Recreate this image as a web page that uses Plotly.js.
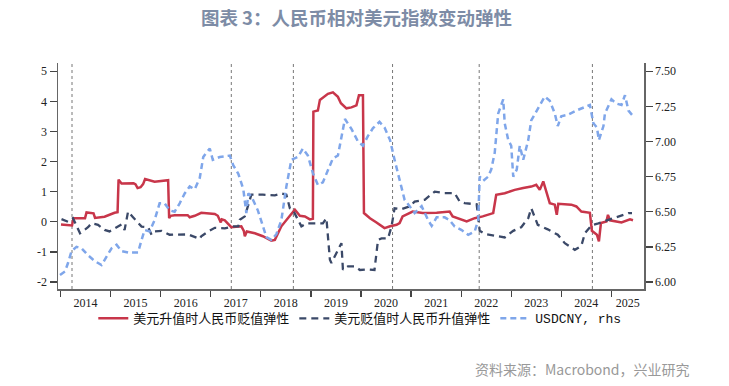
<!DOCTYPE html>
<html>
<head>
<meta charset="utf-8">
<script src="https://cdn.plot.ly/plotly-3.0.1.min.js"></script>
<style>html,body{margin:0;padding:0;background:#fff;}#chart{width:729px;height:386px;}</style>
</head>
<body>
<div id="chart"></div>
<script>
// ---- data (dates as decimal years) ----
const redT = [2014.01,2014.19,2014.23,2014.26,2014.49,2014.52,2014.66,2014.69,2014.88,2015.08,2015.14,2015.16,2015.22,2015.46,2015.50,2015.54,2015.60,2015.65,2015.69,2015.88,2016.08,2016.15,2016.17,2016.20,2016.28,2016.54,2016.58,2016.68,2016.81,2016.94,2017.08,2017.14,2017.20,2017.22,2017.28,2017.41,2017.61,2017.66,2017.68,2017.72,2017.88,2018.04,2018.21,2018.28,2018.41,2018.58,2018.68,2018.78,2018.88,2018.98,2019.04,2019.05,2019.14,2019.18,2019.34,2019.44,2019.54,2019.60,2019.71,2019.81,2019.91,2019.96,2020.04,2020.06,2020.18,2020.31,2020.47,2020.58,2020.71,2020.77,2020.83,2021.03,2021.23,2021.51,2021.77,2021.83,2022.01,2022.11,2022.27,2022.43,2022.64,2022.70,2022.87,2023.07,2023.24,2023.40,2023.50,2023.57,2023.64,2023.70,2023.77,2023.87,2023.91,2023.94,2024.20,2024.30,2024.40,2024.57,2024.61,2024.71,2024.75,2024.79,2024.90,2024.93,2024.97,2025.20,2025.33,2025.37,2025.43];
const redV = [-0.09,-0.13,-0.12,0.12,0.12,0.31,0.28,0.13,0.17,0.30,0.32,1.40,1.27,1.28,1.24,1.12,1.15,1.25,1.42,1.33,1.37,1.38,0.12,0.20,0.22,0.22,0.15,0.20,0.30,0.28,0.26,0.20,-0.02,0.08,0.05,-0.18,-0.15,-0.30,-0.48,-0.32,-0.38,-0.48,-0.63,-0.60,-0.15,0.20,0.40,0.20,0.18,0.08,0.10,3.66,3.70,4.05,4.25,4.30,4.15,3.94,3.77,3.80,3.87,4.20,4.20,0.29,0.12,-0.02,-0.21,-0.15,-0.10,-0.04,0.18,0.34,0.29,0.30,0.34,0.18,0.07,0.01,0.12,0.18,0.29,0.90,0.95,1.06,1.12,1.17,1.23,1.06,1.34,1.00,0.62,0.57,0.23,0.60,0.57,0.51,0.34,0.30,-0.30,-0.43,-0.65,-0.04,0.01,0.23,0.05,-0.02,0.04,0.08,0.05];

const navyT = [2014.02,2014.15,2014.25,2014.39,2014.55,2014.62,2014.75,2014.88,2014.98,2015.12,2015.22,2015.28,2015.35,2015.44,2015.62,2015.75,2015.82,2015.88,2016.02,2016.18,2016.35,2016.55,2016.78,2016.81,2016.95,2017.08,2017.28,2017.44,2017.55,2017.58,2017.68,2017.75,2017.81,2018.04,2018.21,2018.28,2018.41,2018.51,2018.58,2018.64,2018.74,2018.81,2018.91,2019.08,2019.24,2019.31,2019.34,2019.38,2019.41,2019.51,2019.61,2019.64,2019.74,2019.88,2019.98,2020.14,2020.27,2020.34,2020.41,2020.54,2020.61,2020.67,2020.81,2020.97,2021.07,2021.27,2021.47,2021.67,2021.87,2021.97,2022.07,2022.31,2022.37,2022.47,2022.67,2022.87,2023.04,2023.20,2023.34,2023.40,2023.53,2023.73,2023.93,2024.07,2024.27,2024.40,2024.47,2024.60,2024.74,2024.94,2025.14,2025.34,2025.41];
const navyV = [0.09,0.00,0.12,-0.38,-0.18,-0.05,-0.10,-0.27,-0.32,-0.20,-0.09,-0.27,0.34,0.17,-0.16,-0.18,-0.43,-0.32,-0.30,-0.43,-0.42,-0.42,-0.57,-0.48,-0.32,-0.20,-0.22,-0.15,-0.15,0.07,0.18,0.62,0.90,0.90,0.90,0.88,0.94,0.90,0.45,0.40,0.07,-0.15,-0.05,-0.05,-0.05,0.12,-0.38,-1.26,-1.37,-1.04,-0.71,-1.59,-1.48,-1.48,-1.60,-1.58,-1.60,-0.60,-0.55,-0.55,-0.15,0.45,0.42,0.51,0.67,0.73,1.00,0.95,0.95,0.67,0.62,0.58,-0.30,-0.40,-0.45,-0.52,-0.30,-0.18,0.12,0.45,-0.10,-0.25,-0.43,-0.71,-0.93,-0.80,-0.38,-0.12,-0.05,0.07,0.18,0.29,0.29];

const cnyT = [2013.99,2014.09,2014.15,2014.22,2014.32,2014.42,2014.55,2014.68,2014.82,2014.92,2015.02,2015.12,2015.22,2015.35,2015.55,2015.62,2015.68,2015.78,2015.88,2015.98,2016.08,2016.18,2016.28,2016.38,2016.48,2016.58,2016.68,2016.78,2016.85,2016.91,2016.98,2017.04,2017.18,2017.38,2017.45,2017.55,2017.65,2017.71,2017.75,2017.81,2017.94,2018.04,2018.11,2018.21,2018.31,2018.41,2018.51,2018.61,2018.74,2018.84,2018.94,2019.04,2019.14,2019.24,2019.34,2019.44,2019.54,2019.61,2019.68,2019.81,2019.94,2020.04,2020.14,2020.24,2020.37,2020.47,2020.58,2020.67,2020.74,2020.81,2020.87,2020.97,2021.07,2021.21,2021.34,2021.41,2021.51,2021.67,2021.77,2021.87,2022.01,2022.14,2022.27,2022.34,2022.37,2022.44,2022.54,2022.60,2022.67,2022.74,2022.80,2022.84,2022.87,2022.94,2023.00,2023.04,2023.11,2023.17,2023.24,2023.34,2023.40,2023.50,2023.57,2023.67,2023.77,2023.87,2023.93,2024.00,2024.13,2024.33,2024.57,2024.64,2024.71,2024.75,2024.84,2024.87,2025.00,2025.10,2025.20,2025.27,2025.34,2025.41];
const cnyV = [6.05,6.075,6.135,6.22,6.25,6.24,6.19,6.15,6.12,6.18,6.24,6.265,6.22,6.21,6.21,6.30,6.37,6.36,6.44,6.56,6.56,6.51,6.50,6.56,6.63,6.68,6.66,6.74,6.89,6.92,6.95,6.87,6.89,6.90,6.83,6.77,6.66,6.49,6.63,6.61,6.51,6.40,6.32,6.30,6.34,6.44,6.68,6.87,6.89,6.95,6.90,6.775,6.69,6.71,6.80,6.88,6.90,7.035,7.16,7.09,7.00,6.97,7.04,7.095,7.14,7.10,7.01,6.87,6.775,6.68,6.585,6.54,6.49,6.54,6.44,6.40,6.46,6.46,6.44,6.395,6.37,6.336,6.36,6.44,6.75,6.72,6.75,6.80,6.92,7.20,7.27,7.30,7.13,7.01,6.97,6.75,6.80,6.97,6.87,7.01,7.15,7.21,7.26,7.32,7.29,7.20,7.11,7.18,7.19,7.225,7.26,7.13,7.10,7.01,7.11,7.20,7.30,7.27,7.26,7.33,7.22,7.19];

const markerT = [2014.23,2017.41,2018.65,2020.63,2022.36,2024.62];
const yearLabels = ['2014','2015','2016','2017','2018','2019','2020','2021','2022','2023','2024','2025'];
const leftTicks = [5,4,3,2,1,0,-1,-2];
const leftTickText = ['5','4','3','2','1','0','-1','-2'];
const rightTicks = [6.00,6.25,6.50,6.75,7.00,7.25,7.50];
const names = ['美元升值时人民币贬值弹性','美元贬值时人民币升值弹性','USDCNY, rhs'];

// ---- helpers ----
function dy(d){
  const y=Math.floor(d);
  const a=Date.UTC(y,0,1), b=Date.UTC(y+1,0,1);
  return new Date(a+(d-y)*(b-a)).toISOString().replace('T',' ').slice(0,19);
}
const xStart=2013.95, xEnd=2025.65;
const labelPos = yearLabels.map(s=>{
  const y=+s; const e=Math.min(y+1,xEnd);
  return dy((y+e)/2);
});
const boundaries = yearLabels.map(s=>dy(+s));

const traces = [
  {x:redT.map(dy), y:redV, name:names[0], type:'scatter', mode:'lines',
   line:{color:'#c8364a', width:2.5}},
  {x:navyT.map(dy), y:navyV, name:names[1], type:'scatter', mode:'lines',
   line:{color:'#3b4968', width:2.3, dash:'7px,5px'}},
  {x:cnyT.map(dy), y:cnyV, name:names[2], type:'scatter', mode:'lines', yaxis:'y2',
   line:{color:'#7fa6ea', width:2.5, dash:'6px,4px'}}
];

const shapes = markerT.map(t=>({type:'line', xref:'x', yref:'paper', x0:dy(t), x1:dy(t), y0:0, y1:1,
  line:{color:'#777', width:1, dash:'3px,3px'}, layer:'below'}));

const tickFont = {family:'Liberation Serif, Times New Roman, serif', size:12, color:'#222'};

const layout = {
  width:729, height:386, autosize:false,
  paper_bgcolor:'#fff', plot_bgcolor:'#fff',
  margin:{l:58, r:85, t:63, b:97, pad:0},
  title:{text:'图表 3：人民币相对美元指数变动弹性', x:0.489, xanchor:'center', xref:'container', y:0.951, yanchor:'middle',
    font:{family:'Noto Sans CJK SC, sans-serif', size:18.5, color:'#7d8ca6', weight:'bold'}},
  xaxis:{type:'date', range:[dy(xStart), dy(xEnd)], tickmode:'array', tickvals:labelPos, ticktext:yearLabels,
    ticks:'outside', ticklen:2, tickcolor:'rgba(0,0,0,0)', showgrid:false, zeroline:false,
    showline:true, linecolor:'#666', linewidth:1.5, tickfont:tickFont,
    minor:{tickmode:'array', tickvals:boundaries, ticks:'outside', ticklen:6, tickcolor:'#444', tickwidth:1.3, showgrid:false}},
  yaxis:{range:[-2.232, 5.275], tickmode:'array', tickvals:leftTicks, ticktext:leftTickText,
    ticks:'outside', ticklen:7, tickcolor:'#444', tickwidth:1.3, showgrid:false, zeroline:false,
    showline:true, linecolor:'#666', linewidth:1.5, tickfont:tickFont},
  yaxis2:{overlaying:'y', side:'right', range:[5.950, 7.559], tickmode:'array', tickvals:rightTicks, tickformat:'.2f',
    ticks:'outside', ticklen:7, tickcolor:'#444', tickwidth:1.3, showgrid:false, zeroline:false,
    showline:true, linecolor:'#666', linewidth:1.5, tickfont:tickFont},
  showlegend:true,
  legend:{orientation:'h', x:0.515, xanchor:'center', y:-0.13, yanchor:'middle',
    font:{family:'Liberation Mono, Noto Sans CJK SC, monospace', size:13, color:'#111'},
    bgcolor:'rgba(0,0,0,0)', itemwidth:30, tracegroupgap:0},
  shapes:shapes,
  annotations:[{text:'资料来源：Macrobond，兴业研究', xref:'paper', yref:'paper', x:1.082, y:-0.354,
    xanchor:'right', yanchor:'middle', showarrow:false,
    font:{family:'Noto Sans CJK SC, sans-serif', size:14, color:'#999'}}]
};

Plotly.newPlot('chart', traces, layout, {staticPlot:true, displayModeBar:false});
</script>
</body>
</html>
